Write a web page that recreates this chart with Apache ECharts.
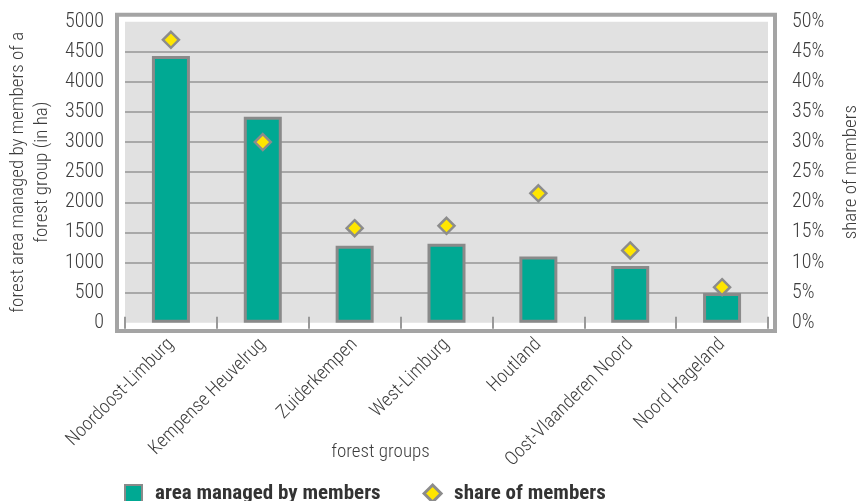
<!DOCTYPE html>
<html>
<head>
<meta charset="utf-8">
<script src="https://cdn.jsdelivr.net/npm/echarts@6/dist/echarts.min.js"></script>
<style>
  html, body { margin: 0; padding: 0; background: #fff; }
  #chart { width: 860px; height: 501px; }
</style>
</head>
<body>
<div id="chart"></div>
<script>
// forest groups
const groups = ['Noordoost-Limburg', 'Kempense Heuvelrug', 'Zuiderkempen', 'West-Limburg', 'Houtland', 'Oost-Vlaanderen Noord', 'Noord Hageland']
// area managed by members (ha)
const areaValues = [4430, 3420, 1280, 1310, 1100, 940, 495]
// share of members (%)
const shareValues = [47, 30, 15.7, 16.1, 21.5, 12, 5.9]

const font = '"Roboto Condensed", "DejaVu Sans Condensed", sans-serif'
const textColor = '#3d3d3d'
const frameGray = '#a4a4a4'

const chart = echarts.init(document.getElementById('chart'))
chart.setOption({
  animation: false,
  textStyle: { fontFamily: font },
  grid: {
    left: 125, right: 92, top: 21.7, bottom: 178.3,
    outerBoundsMode: 'none', containLabel: false,
    show: true, backgroundColor: '#e1e1e1', borderWidth: 0
  },
  graphic: [{
    type: 'rect', silent: true, z: -1,
    shape: { x: 117, y: 14.7, width: 658, height: 316.3 },
    style: { fill: 'none', stroke: frameGray, lineWidth: 4 }
  }],
  legend: {
    left: 119, top: 478,
    itemWidth: 17, itemHeight: 17, itemGap: 42,
    textStyle: { fontFamily: font, fontSize: 21, fontWeight: 'bold', color: '#333', padding: [0, 0, 0, 8] },
    data: [
      { name: 'area managed by members', icon: 'rect' },
      { name: 'share of members', icon: 'diamond', itemStyle: { borderWidth: 3 } }
    ]
  },
  xAxis: {
    type: 'category',
    data: groups,
    offset: -6,
    axisLine: { show: false },
    axisTick: { show: true, length: 12, lineStyle: { color: '#999', width: 2 } },
    axisLabel: { rotate: 45, margin: 25, fontSize: 19, fontWeight: 300, color: textColor, fontFamily: font },
    name: 'forest groups',
    nameLocation: 'middle',
    nameMoveOverlap: false,
    nameGap: 126,
    nameTextStyle: { fontSize: 19, fontWeight: 300, color: textColor, fontFamily: font, padding: [0, 132, 0, 0] }
  },
  yAxis: [{
    type: 'value',
    min: 0, max: 5000, interval: 500,
    axisLine: { show: false },
    axisTick: { show: false },
    axisLabel: { margin: 21, fontSize: 20, fontWeight: 300, color: textColor, fontFamily: font, formatter: v => String(v) },
    splitLine: { showMinLine: false, showMaxLine: false, lineStyle: { color: '#a8a8a8', width: 2 } },
    name: 'forest area managed by members of a\nforest group (in ha)',
    nameLocation: 'middle',
    nameGap: 70,
    nameTextStyle: { fontSize: 19, fontWeight: 300, lineHeight: 24, color: textColor, fontFamily: font }
  }, {
    type: 'value',
    min: 0, max: 50, interval: 5,
    axisLine: { show: false },
    axisTick: { show: false },
    splitLine: { show: false },
    axisLabel: { margin: 24, fontSize: 20, fontWeight: 300, color: textColor, fontFamily: font, formatter: '{value}%' },
    name: 'share of members',
    nameLocation: 'middle',
    nameGap: 74,
    nameTextStyle: { fontSize: 19, fontWeight: 300, color: textColor, fontFamily: font }
  }],
  series: [{
    name: 'area managed by members',
    type: 'bar',
    data: areaValues,
    barWidth: 38,
    itemStyle: { color: '#00a993', borderColor: '#8a8a8a', borderWidth: 3 }
  }, {
    name: 'share of members',
    type: 'scatter',
    yAxisIndex: 1,
    data: shareValues,
    symbol: 'diamond',
    symbolSize: 16,
    itemStyle: { color: '#ffe600', borderColor: '#8c8c8c', borderWidth: 2.5, opacity: 1 },
    z: 5
  }]
})
</script>
</body>
</html>
